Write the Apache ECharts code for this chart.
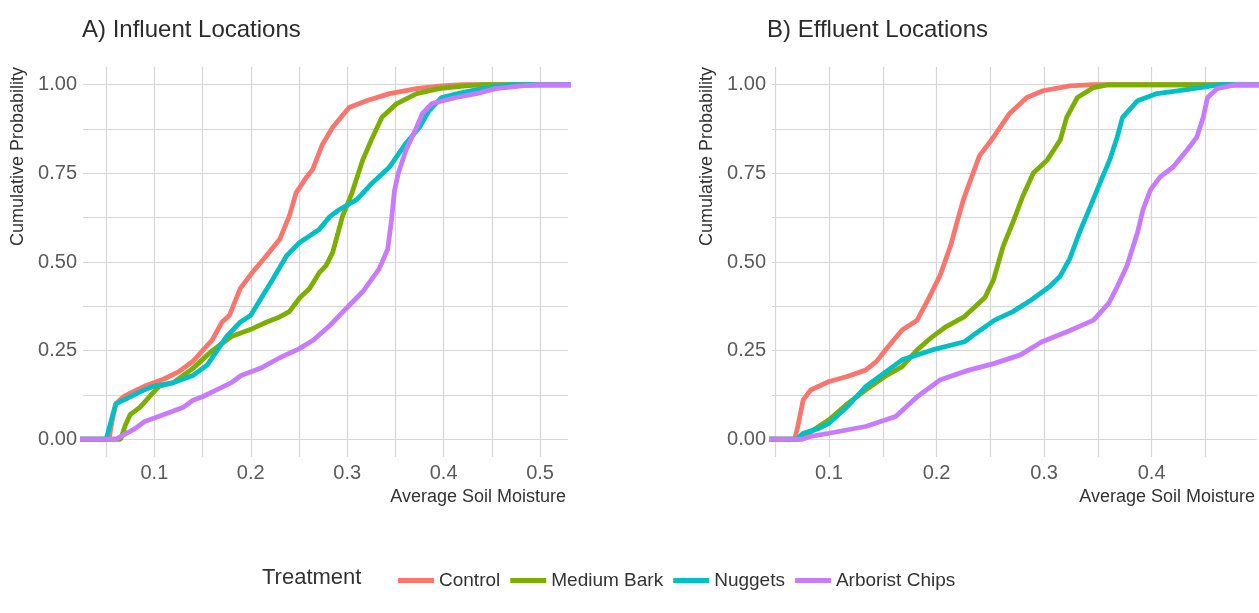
<!DOCTYPE html>
<html>
<head>
<meta charset="utf-8">
<script src="https://cdn.jsdelivr.net/npm/echarts@6/dist/echarts.min.js"></script>
<style>
html,body{margin:0;padding:0;background:#fff;}
#chart{width:1259px;height:613px;}
</style>
</head>
<body>
<div id="chart"></div>
<script>
// ---- Data ----
const treatments = ['Control', 'Medium Bark', 'Nuggets', 'Arborist Chips'];
const colors = ['#F8766D', '#7CAE00', '#00BFC4', '#C77CFF'];

// Panel A: Influent locations  [soil moisture, cumulative probability]
const inflControl = [[0,0],[0.053,0],[0.056,0.05],[0.060,0.10],[0.068,0.12],[0.075,0.13],[0.09,0.15],[0.11,0.17],[0.125,0.19],[0.14,0.22],[0.15,0.25],[0.16,0.28],[0.17,0.33],[0.178,0.35],[0.189,0.425],[0.202,0.472],[0.216,0.517],[0.230,0.564],[0.240,0.63],[0.247,0.695],[0.258,0.74],[0.264,0.76],[0.274,0.83],[0.285,0.88],[0.302,0.936],[0.32,0.955],[0.344,0.975],[0.372,0.989],[0.398,0.997],[0.42,1],[0.6,1]];
const inflBark = [[0,0],[0.065,0],[0.07,0.04],[0.075,0.07],[0.085,0.09],[0.095,0.12],[0.105,0.15],[0.12,0.16],[0.14,0.2],[0.16,0.25],[0.18,0.29],[0.2,0.31],[0.216,0.33],[0.23,0.345],[0.24,0.36],[0.251,0.40],[0.261,0.425],[0.271,0.47],[0.278,0.49],[0.285,0.527],[0.295,0.628],[0.305,0.695],[0.316,0.787],[0.326,0.85],[0.336,0.908],[0.351,0.946],[0.372,0.975],[0.395,0.989],[0.423,0.997],[0.44,1],[0.6,1]];
const inflNuggets = [[0,0],[0.05,0],[0.055,0.05],[0.06,0.10],[0.075,0.12],[0.09,0.14],[0.1,0.15],[0.12,0.16],[0.14,0.18],[0.155,0.21],[0.165,0.25],[0.175,0.29],[0.189,0.33],[0.2,0.35],[0.209,0.39],[0.223,0.452],[0.237,0.517],[0.251,0.556],[0.271,0.592],[0.282,0.628],[0.292,0.648],[0.31,0.676],[0.326,0.723],[0.344,0.768],[0.361,0.835],[0.375,0.88],[0.385,0.927],[0.398,0.964],[0.419,0.978],[0.44,0.989],[0.457,0.997],[0.47,1],[0.6,1]];
const inflChips = [[0,0],[0.06,0],[0.07,0.015],[0.08,0.03],[0.09,0.05],[0.1,0.06],[0.115,0.075],[0.13,0.09],[0.14,0.11],[0.15,0.12],[0.165,0.14],[0.18,0.16],[0.19,0.18],[0.21,0.2],[0.23,0.23],[0.25,0.255],[0.265,0.28],[0.282,0.321],[0.299,0.369],[0.316,0.416],[0.333,0.48],[0.342,0.536],[0.346,0.62],[0.349,0.70],[0.353,0.75],[0.361,0.816],[0.372,0.88],[0.378,0.919],[0.388,0.947],[0.413,0.964],[0.434,0.975],[0.454,0.989],[0.481,0.997],[0.5,1],[0.6,1]];

// Panel B: Effluent locations
const efflControl = [[0,0],[0.068,0],[0.071,0.036],[0.076,0.111],[0.083,0.139],[0.1,0.163],[0.117,0.177],[0.134,0.195],[0.144,0.219],[0.155,0.261],[0.168,0.308],[0.182,0.336],[0.192,0.393],[0.203,0.46],[0.213,0.545],[0.219,0.612],[0.225,0.676],[0.234,0.751],[0.24,0.80],[0.253,0.852],[0.268,0.919],[0.284,0.964],[0.299,0.983],[0.324,0.997],[0.346,1],[0.6,1]];
const efflBark = [[0,0],[0.072,0],[0.08,0.015],[0.09,0.035],[0.1,0.055],[0.117,0.10],[0.134,0.139],[0.152,0.177],[0.168,0.205],[0.182,0.252],[0.196,0.289],[0.209,0.318],[0.226,0.346],[0.245,0.40],[0.253,0.45],[0.262,0.545],[0.271,0.612],[0.28,0.684],[0.29,0.751],[0.303,0.788],[0.315,0.844],[0.321,0.908],[0.331,0.964],[0.346,0.992],[0.36,1],[0.6,1]];
const efflNuggets = [[0,0],[0.07,0],[0.076,0.017],[0.09,0.03],[0.1,0.045],[0.117,0.092],[0.134,0.148],[0.155,0.195],[0.168,0.224],[0.196,0.252],[0.226,0.275],[0.237,0.30],[0.254,0.336],[0.271,0.36],[0.288,0.393],[0.305,0.43],[0.315,0.46],[0.324,0.51],[0.333,0.584],[0.343,0.656],[0.352,0.723],[0.361,0.788],[0.368,0.852],[0.373,0.908],[0.387,0.955],[0.405,0.975],[0.424,0.983],[0.445,0.992],[0.464,1],[0.6,1]];
const efflChips = [[0,0],[0.075,0],[0.083,0.008],[0.1,0.017],[0.134,0.036],[0.162,0.064],[0.182,0.12],[0.203,0.167],[0.23,0.195],[0.254,0.214],[0.278,0.238],[0.298,0.275],[0.322,0.304],[0.346,0.336],[0.36,0.383],[0.368,0.43],[0.377,0.489],[0.387,0.584],[0.392,0.648],[0.399,0.704],[0.408,0.74],[0.42,0.768],[0.433,0.816],[0.442,0.852],[0.448,0.908],[0.452,0.964],[0.461,0.989],[0.478,1],[0.6,1]];

// Axis ticks / labels
const xLabelsA = [0.1, 0.2, 0.3, 0.4, 0.5];
const xGridA = [0.05, 0.1, 0.15, 0.2, 0.25, 0.3, 0.35, 0.4, 0.45, 0.5];
const xLabelsB = [0.1, 0.2, 0.3, 0.4];
const xGridB = [0.05, 0.1, 0.15, 0.2, 0.25, 0.3, 0.35, 0.4, 0.45];
const yLabels = [0, 0.25, 0.5, 0.75, 1];
const yGrid = [0, 0.125, 0.25, 0.375, 0.5, 0.625, 0.75, 0.875, 1];
const xRangeA = [0.026, 0.529];
const xRangeB = [0.047, 0.498];
const yRange = [-0.05, 1.05];

const panelA = [inflControl, inflBark, inflNuggets, inflChips];
const panelB = [efflControl, efflBark, efflNuggets, efflChips];

// ---- Chart ----
const FONT = '"Liberation Sans", Arial, sans-serif';
const gridLine = { show: true, lineStyle: { color: '#d6d6d6', width: 1.2 } };

function xAxis(gridIndex, range, labels, grid) {
  return {
    type: 'value', gridIndex, min: range[0], max: range[1],
    axisLine: { show: false },
    axisTick: { show: false, customValues: grid },
    splitLine: gridLine,
    axisLabel: {
      customValues: labels, margin: 6, fontSize: 20, color: '#5a5a5a', fontFamily: FONT,
      formatter: v => (Math.round(v * 10) / 10).toString()
    }
  };
}
function yAxis(gridIndex) {
  return {
    type: 'value', gridIndex, min: yRange[0], max: yRange[1],
    axisLine: { show: false },
    axisTick: { show: false, customValues: yGrid },
    splitLine: gridLine,
    axisLabel: {
      customValues: yLabels, margin: 6, fontSize: 20, color: '#5a5a5a', fontFamily: FONT,
      formatter: v => v.toFixed(2)
    }
  };
}

const series = [];
[panelA, panelB].forEach((panel, pi) => {
  panel.forEach((data, i) => {
    series.push({
      type: 'line', name: treatments[i], xAxisIndex: pi, yAxisIndex: pi,
      data, showSymbol: false, symbol: 'none', clip: true,
      lineStyle: { color: colors[i], width: 4.8 }, itemStyle: { color: colors[i] },
      z: 2 + i
    });
  });
});

const chart = echarts.init(document.getElementById('chart'), null, { renderer: 'canvas' });
chart.setOption({
  backgroundColor: '#fff',
  animation: false,
  textStyle: { fontFamily: FONT },
  grid: [
    { left: 83, top: 67, width: 485, height: 390 },
    { left: 772, top: 67, width: 485, height: 390 }
  ],
  xAxis: [xAxis(0, xRangeA, xLabelsA, xGridA), xAxis(1, xRangeB, xLabelsB, xGridB)],
  yAxis: [yAxis(0), yAxis(1)],
  legend: {
    data: treatments, left: 393, top: 566, icon: 'rect', itemWidth: 36, itemHeight: 5, itemGap: 10,
    textStyle: { fontSize: 19, color: '#333', fontFamily: FONT }
  },
  graphic: [
    { type: 'text', x: 82, y: 30, style: { text: 'A) Influent Locations', fontSize: 24, fill: '#2b2b2b', fontFamily: FONT, align: 'left', verticalAlign: 'middle' } },
    { type: 'text', x: 767, y: 30, style: { text: 'B) Effluent Locations', fontSize: 24, fill: '#2b2b2b', fontFamily: FONT, align: 'left', verticalAlign: 'middle' } },
    { type: 'text', x: 18, y: 67, rotation: Math.PI / 2, style: { text: 'Cumulative Probability', fontSize: 18, fill: '#333', fontFamily: FONT, align: 'right', verticalAlign: 'middle' } },
    { type: 'text', x: 707, y: 67, rotation: Math.PI / 2, style: { text: 'Cumulative Probability', fontSize: 18, fill: '#333', fontFamily: FONT, align: 'right', verticalAlign: 'middle' } },
    { type: 'text', x: 566, y: 497, style: { text: 'Average Soil Moisture', fontSize: 18, fill: '#333', fontFamily: FONT, align: 'right', verticalAlign: 'middle' } },
    { type: 'text', x: 1255, y: 497, style: { text: 'Average Soil Moisture', fontSize: 18, fill: '#333', fontFamily: FONT, align: 'right', verticalAlign: 'middle' } },
    { type: 'text', x: 262, y: 578, style: { text: 'Treatment', fontSize: 22, fill: '#333', fontFamily: FONT, align: 'left', verticalAlign: 'middle' } }
  ],
  series
});
</script>
</body>
</html>
